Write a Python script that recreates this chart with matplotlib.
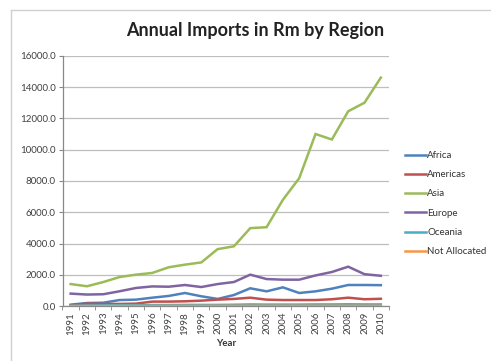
import numpy as np
import matplotlib
matplotlib.use("Agg")
import matplotlib.pyplot as plt
from matplotlib.ticker import FormatStrFormatter, FixedLocator
from matplotlib.lines import Line2D

plt.rcParams['font.family'] = ['Lato', 'DejaVu Sans']

# data (R millions)
years = [str(y) for y in range(1991, 2011)]
africa = [105, 210, 230, 400, 425, 550, 660, 850, 640, 470,
          720, 1150, 955, 1210, 850, 955, 1125, 1360, 1360, 1350]
americas = [65, 170, 150, 150, 170, 300, 300, 320, 360, 425,
            470, 550, 425, 400, 400, 400, 450, 550, 450, 480]
asia = [1420, 1280, 1550, 1870, 2020, 2130, 2490, 2660, 2800, 3650,
        3830, 4990, 5050, 6800, 8180, 11000, 10650, 12450, 13000, 14600]
europe = [810, 750, 770, 960, 1170, 1270, 1250, 1360, 1230, 1420,
          1550, 2020, 1740, 1700, 1700, 1970, 2190, 2530, 2050, 1950]
oceania = [40, 50, 60, 70, 70, 80, 80, 90, 90, 90,
           100, 120, 110, 110, 110, 120, 120, 130, 120, 120]
not_allocated = [10, 15, 15, 20, 20, 20, 25, 25, 25, 30,
                 30, 30, 30, 30, 30, 30, 30, 30, 30, 30]

series = [("Africa", africa, "#4F81BD"),
          ("Americas", americas, "#C0504D"),
          ("Asia", asia, "#9BBB59"),
          ("Europe", europe, "#8064A2"),
          ("Oceania", oceania, "#4BACC6"),
          ("Not Allocated", not_allocated, "#F79646")]

fig = plt.figure(figsize=(4.91, 3.61), dpi=100)
ax = fig.add_axes([62.5 / 491, 1 - 306.3 / 361, (389 - 62.5) / 491, (306.3 - 55.7) / 361])

x = np.arange(len(years))
for name, vals, col in series:
    ax.plot(x, vals, color=col, lw=1.8, label=name, solid_joinstyle="miter")

ax.set_xlim(-0.5, len(years) - 0.5)
ax.set_ylim(0, 16000)
ax.set_yticks(np.arange(0, 16001, 2000))
ax.yaxis.set_major_formatter(FormatStrFormatter("%.1f"))
ax.set_xticks(x)
ax.set_xticklabels(years, rotation=90)
ax.xaxis.set_minor_locator(FixedLocator(np.arange(-0.5, len(years), 1.0)))
ax.tick_params(axis="x", which="major", length=0, labelsize=7, colors="#404040", pad=4)
ax.tick_params(axis="x", which="minor", length=3, color="#888888")
ax.tick_params(axis="y", length=3, color="#888888", labelsize=7, labelcolor="#404040", pad=2)

ax.grid(axis="y", color="#BEBEBE", lw=0.9)
ax.set_axisbelow(True)
for s in ["top", "right"]:
    ax.spines[s].set_visible(False)
for s in ["left", "bottom"]:
    ax.spines[s].set_color("#888888")
    ax.spines[s].set_linewidth(0.9)

ax.set_xlabel("Year", fontsize=7, fontweight="bold", color="#333333", labelpad=3)
fig.text(0.52, 0.915, "Annual Imports in Rm by Region", ha="center", va="center",
         fontsize=13, fontweight="bold", color="#222222")

fig.legend(loc="center left", bbox_to_anchor=(0.807, 0.436), frameon=False,
           fontsize=7, handlelength=2.2, handletextpad=0.1, labelspacing=1.05,
           labelcolor="#333333")

# chart area border (top and left edges visible)
fig.add_artist(Line2D([11 / 491, 1], [1 - 10 / 361] * 2, color="#D0D0D0", lw=1))
fig.add_artist(Line2D([11 / 491] * 2, [0, 1 - 10 / 361], color="#D0D0D0", lw=1))

fig.savefig("out.png", dpi=100, facecolor="white")
